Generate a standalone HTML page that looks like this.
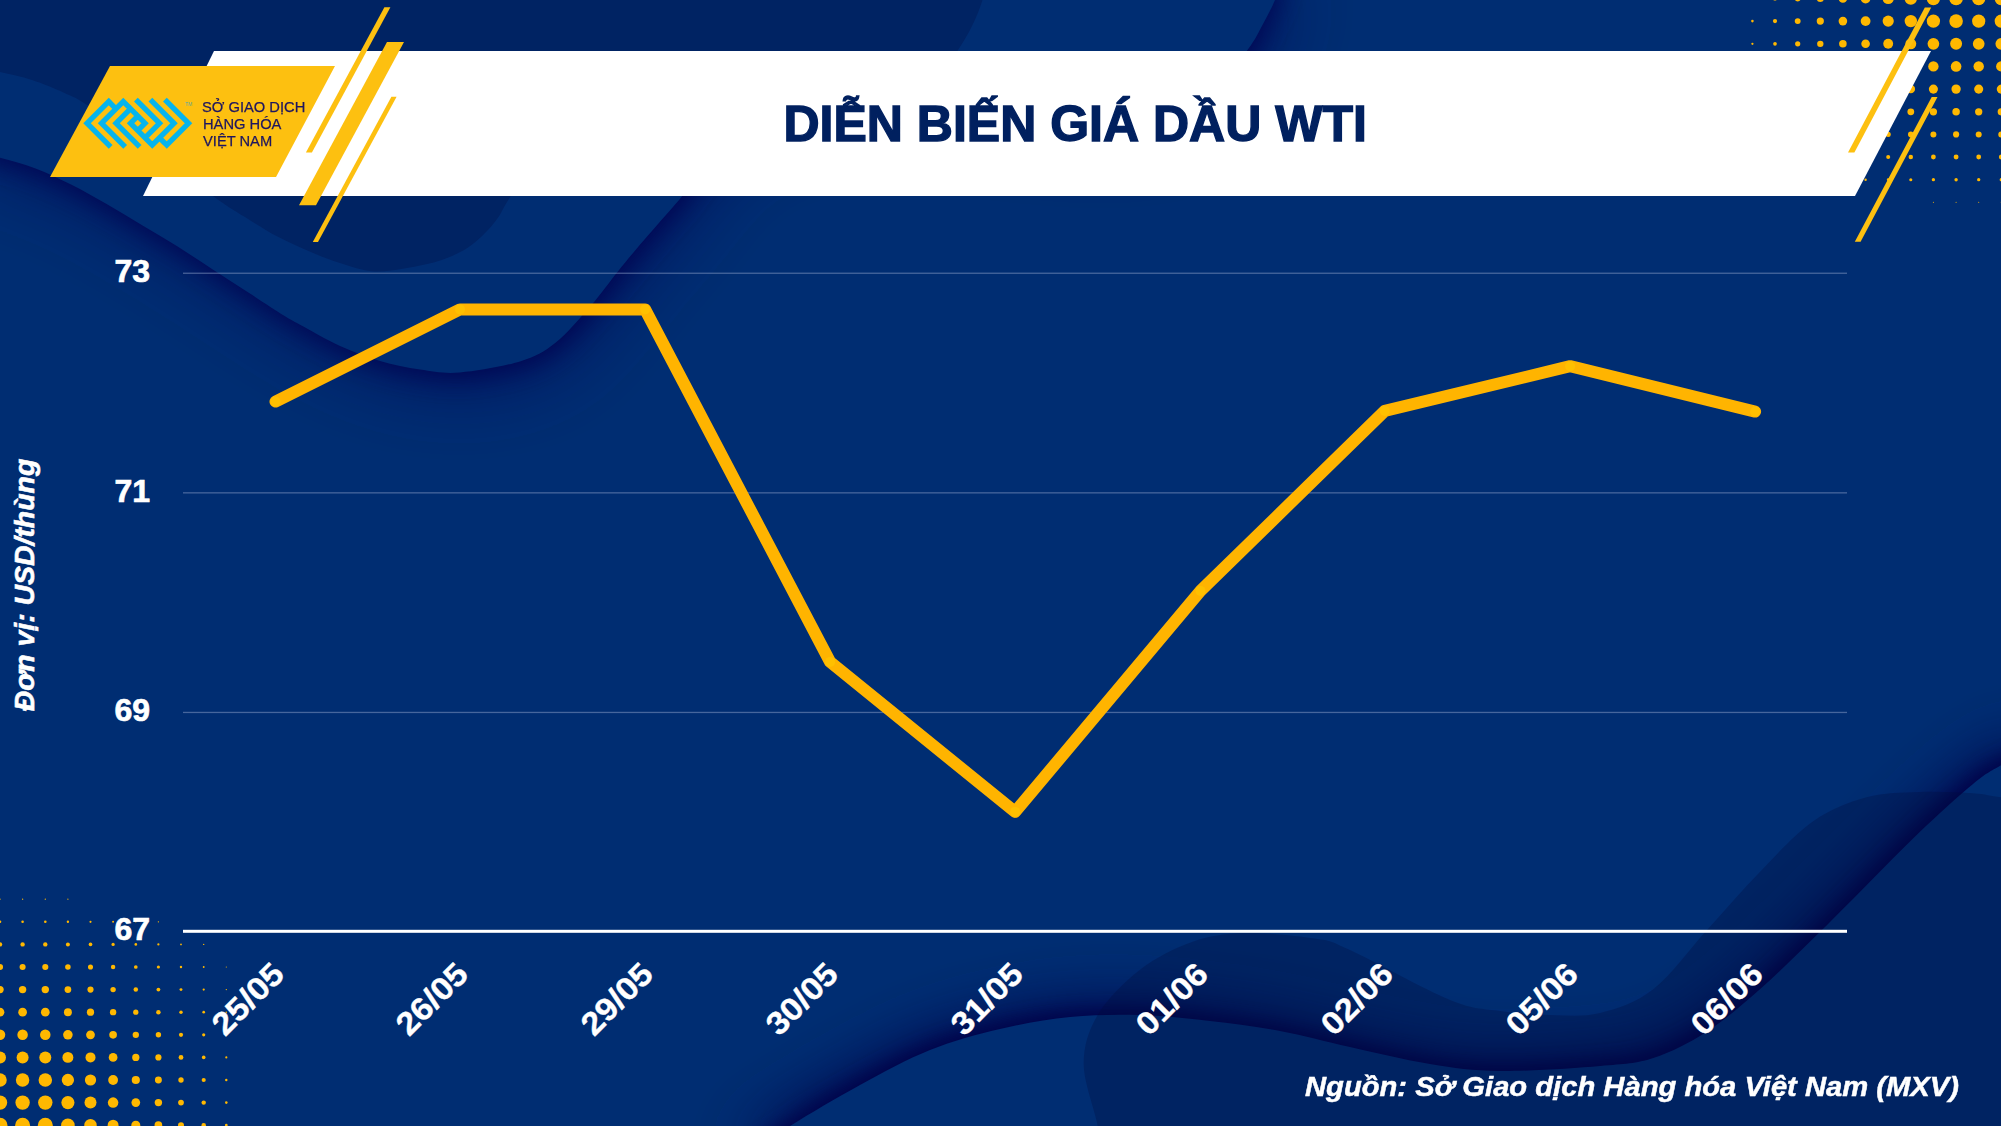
<!DOCTYPE html>
<html><head><meta charset="utf-8"><style>
html,body{margin:0;padding:0;background:#002d72;}
body{width:2001px;height:1126px;position:relative;overflow:hidden;}
svg{position:absolute;left:0;top:0;}
.t{position:absolute;white-space:nowrap;font-family:"Liberation Sans",sans-serif;line-height:1;}
.title{left:783.5px;top:98.5px;font-size:50px;font-weight:bold;color:#00205f;-webkit-text-stroke:1.4px #00205f;transform:scaleX(1.0);transform-origin:0 0;}
.lg{font-family:"Liberation Sans",sans-serif;font-size:15.4px;color:#1e1660;-webkit-text-stroke:0.25px #1e1660;left:202.5px;transform:scaleX(0.955);transform-origin:0 0;}
.l1{top:99.2px;left:201.5px}.l2{top:116.2px}.l3{top:133.3px}
.tm{left:185px;top:101.5px;font-size:5px;color:#5aa8a0;}
.yl{left:0;width:150px;text-align:right;font-size:32px;font-weight:bold;color:#fff;-webkit-text-stroke:0.7px #fff;}
.ytitle{left:-125px;top:570px;width:300px;text-align:center;font-size:28.4px;font-weight:bold;font-style:italic;color:#fff;-webkit-text-stroke:0.6px #fff;transform:rotate(-90deg);transform-origin:150px 15px;}
.src{left:1305px;top:1073px;font-size:28px;font-weight:bold;font-style:italic;color:#fff;-webkit-text-stroke:0.5px #fff;transform:scaleX(1.042);transform-origin:0 0;}
.xl{width:300px;text-align:right;font-size:32px;font-weight:bold;color:#fff;-webkit-text-stroke:0.35px #fff;transform:rotate(-45deg) scaleX(1.08);transform-origin:300px 0px;}
</style></head>
<body><svg width="2001" height="1126" viewBox="0 0 2001 1126"><defs>
<filter id="sh1" x="-20%" y="-20%" width="140%" height="140%"><feGaussianBlur stdDeviation="22"/></filter>
<filter id="sh2" x="-20%" y="-20%" width="140%" height="140%"><feGaussianBlur stdDeviation="9"/></filter>
<filter id="sh4" x="-20%" y="-20%" width="140%" height="140%"><feGaussianBlur stdDeviation="36"/></filter>
<filter id="sh5" x="-20%" y="-20%" width="140%" height="140%"><feGaussianBlur stdDeviation="12"/></filter>
<filter id="sh3" x="-20%" y="-20%" width="140%" height="140%"><feGaussianBlur stdDeviation="28"/></filter>
</defs><rect x="0" y="0" width="2001" height="1126" fill="#002d72"/><path d="M-30,-30 L-30.0,150.0 C-25.0,151.3 -10.9,154.7 0.0,157.8 C10.9,160.9 23.7,164.0 35.5,168.4 C47.3,172.8 59.1,178.5 71.0,184.4 C82.8,190.3 94.8,197.2 106.6,204.0 C118.4,210.8 130.3,218.2 142.1,225.3 C153.9,232.4 165.8,239.2 177.6,246.6 C189.4,254.0 201.2,262.0 213.1,269.7 C224.9,277.4 236.8,285.1 248.7,292.8 C260.6,300.5 275.6,310.5 284.2,315.8 C292.8,321.1 290.7,319.7 300.0,324.7 C309.3,329.7 326.7,339.9 340.0,346.0 C353.3,352.1 366.7,357.1 380.0,361.0 C393.3,364.9 406.7,367.6 420.0,369.5 C433.3,371.4 443.3,373.9 460.0,372.5 C476.7,371.1 504.1,366.3 520.0,361.4 C535.9,356.4 543.7,352.1 555.5,342.8 C567.3,333.5 580.6,317.4 591.0,305.5 C601.4,293.6 608.8,282.7 617.7,271.7 C626.6,260.7 633.9,251.8 644.3,239.7 C654.7,227.6 665.6,215.5 679.9,198.9 C694.2,182.3 701.6,156.5 730.0,140.0 C758.4,123.5 788.3,103.3 850.0,100.0 C911.7,96.7 1040.0,120.8 1100.0,120.0 C1160.0,119.2 1185.4,106.7 1210.0,95.0 C1234.6,83.3 1238.8,61.7 1247.5,50.0 C1256.2,38.3 1257.9,33.3 1262.5,25.0 C1267.1,16.7 1271.6,8.3 1275.0,0.0 C1278.4,-8.3 1281.7,-20.8 1283.0,-25.0 Z" fill="#000050" fill-opacity="0.6" filter="url(#sh4)" transform="translate(8,14)"/><path d="M-30,-30 L-30.0,150.0 C-25.0,151.3 -10.9,154.7 0.0,157.8 C10.9,160.9 23.7,164.0 35.5,168.4 C47.3,172.8 59.1,178.5 71.0,184.4 C82.8,190.3 94.8,197.2 106.6,204.0 C118.4,210.8 130.3,218.2 142.1,225.3 C153.9,232.4 165.8,239.2 177.6,246.6 C189.4,254.0 201.2,262.0 213.1,269.7 C224.9,277.4 236.8,285.1 248.7,292.8 C260.6,300.5 275.6,310.5 284.2,315.8 C292.8,321.1 290.7,319.7 300.0,324.7 C309.3,329.7 326.7,339.9 340.0,346.0 C353.3,352.1 366.7,357.1 380.0,361.0 C393.3,364.9 406.7,367.6 420.0,369.5 C433.3,371.4 443.3,373.9 460.0,372.5 C476.7,371.1 504.1,366.3 520.0,361.4 C535.9,356.4 543.7,352.1 555.5,342.8 C567.3,333.5 580.6,317.4 591.0,305.5 C601.4,293.6 608.8,282.7 617.7,271.7 C626.6,260.7 633.9,251.8 644.3,239.7 C654.7,227.6 665.6,215.5 679.9,198.9 C694.2,182.3 701.6,156.5 730.0,140.0 C758.4,123.5 788.3,103.3 850.0,100.0 C911.7,96.7 1040.0,120.8 1100.0,120.0 C1160.0,119.2 1185.4,106.7 1210.0,95.0 C1234.6,83.3 1238.8,61.7 1247.5,50.0 C1256.2,38.3 1257.9,33.3 1262.5,25.0 C1267.1,16.7 1271.6,8.3 1275.0,0.0 C1278.4,-8.3 1281.7,-20.8 1283.0,-25.0 Z" fill="#000050" fill-opacity="0.75" filter="url(#sh5)" transform="translate(3,6)"/><path d="M-30,-30 L-30.0,150.0 C-25.0,151.3 -10.9,154.7 0.0,157.8 C10.9,160.9 23.7,164.0 35.5,168.4 C47.3,172.8 59.1,178.5 71.0,184.4 C82.8,190.3 94.8,197.2 106.6,204.0 C118.4,210.8 130.3,218.2 142.1,225.3 C153.9,232.4 165.8,239.2 177.6,246.6 C189.4,254.0 201.2,262.0 213.1,269.7 C224.9,277.4 236.8,285.1 248.7,292.8 C260.6,300.5 275.6,310.5 284.2,315.8 C292.8,321.1 290.7,319.7 300.0,324.7 C309.3,329.7 326.7,339.9 340.0,346.0 C353.3,352.1 366.7,357.1 380.0,361.0 C393.3,364.9 406.7,367.6 420.0,369.5 C433.3,371.4 443.3,373.9 460.0,372.5 C476.7,371.1 504.1,366.3 520.0,361.4 C535.9,356.4 543.7,352.1 555.5,342.8 C567.3,333.5 580.6,317.4 591.0,305.5 C601.4,293.6 608.8,282.7 617.7,271.7 C626.6,260.7 633.9,251.8 644.3,239.7 C654.7,227.6 665.6,215.5 679.9,198.9 C694.2,182.3 701.6,156.5 730.0,140.0 C758.4,123.5 788.3,103.3 850.0,100.0 C911.7,96.7 1040.0,120.8 1100.0,120.0 C1160.0,119.2 1185.4,106.7 1210.0,95.0 C1234.6,83.3 1238.8,61.7 1247.5,50.0 C1256.2,38.3 1257.9,33.3 1262.5,25.0 C1267.1,16.7 1271.6,8.3 1275.0,0.0 C1278.4,-8.3 1281.7,-20.8 1283.0,-25.0 Z" fill="#002d72"/><path d="M-30,-30 L-30.0,66.0 C-25.0,67.0 -10.3,69.7 0.0,72.0 C10.3,74.3 21.3,76.5 32.0,80.0 C42.7,83.5 54.7,88.5 64.0,92.7 C73.3,97.0 73.7,96.0 88.0,105.5 C102.3,115.0 128.8,134.6 150.0,150.0 C171.2,165.4 199.6,186.6 215.3,197.7 C231.0,208.8 233.8,210.1 244.2,216.6 C254.6,223.1 266.4,230.7 277.5,236.6 C288.6,242.5 300.4,247.7 310.8,252.1 C321.2,256.5 329.8,259.8 340.0,263.0 C350.2,266.2 361.1,270.4 372.0,271.3 C382.9,272.2 394.0,270.1 405.5,268.2 C417.0,266.3 430.6,263.6 441.0,260.2 C451.4,256.8 460.3,252.3 467.7,247.7 C475.1,243.1 480.3,237.8 485.5,232.6 C490.7,227.4 494.7,222.6 498.8,216.6 C502.9,210.6 500.1,212.8 510.3,196.7 C520.5,180.6 511.7,134.4 560.0,120.0 C608.3,105.5 738.3,115.0 800.0,110.0 C861.7,105.0 903.7,100.0 930.0,90.0 C956.3,80.0 950.9,60.8 958.0,50.0 C965.1,39.2 968.4,33.3 972.5,25.0 C976.6,16.7 979.9,8.3 982.5,0.0 C985.1,-8.3 987.1,-20.8 988.0,-25.0 Z" fill="#002363"/><path d="M740.0,1160.0 C748.3,1154.3 770.0,1138.5 790.0,1126.0 C810.0,1113.5 836.7,1097.7 860.0,1085.0 C883.3,1072.3 906.7,1059.3 930.0,1050.0 C953.3,1040.7 976.7,1034.5 1000.0,1029.0 C1023.3,1023.5 1046.7,1019.3 1070.0,1017.0 C1093.3,1014.7 1116.7,1014.3 1140.0,1015.0 C1163.3,1015.7 1186.7,1018.3 1210.0,1021.0 C1233.3,1023.7 1256.7,1026.7 1280.0,1031.0 C1303.3,1035.3 1325.0,1041.5 1350.0,1047.0 C1375.0,1052.5 1405.0,1060.0 1430.0,1064.0 C1455.0,1068.0 1471.7,1070.7 1500.0,1071.0 C1528.3,1071.3 1574.5,1068.2 1600.0,1066.0 C1625.5,1063.8 1635.5,1063.7 1653.3,1058.0 C1671.1,1052.3 1688.8,1043.3 1706.6,1031.8 C1724.4,1020.3 1742.1,1004.8 1759.9,989.2 C1777.7,973.7 1795.4,955.8 1813.2,938.5 C1831.0,921.2 1848.8,903.0 1866.5,885.2 C1884.2,867.5 1902.0,848.9 1919.7,832.0 C1937.5,815.1 1959.5,795.1 1973.0,784.0 C1986.5,772.9 1989.8,771.8 2001.0,765.3 C2012.2,758.8 2033.5,748.4 2040.0,745.0 L2040,1160 Z" fill="#000048" fill-opacity="0.8" filter="url(#sh3)" transform="translate(-8,-14)"/><path d="M740.0,1160.0 C748.3,1154.3 770.0,1138.5 790.0,1126.0 C810.0,1113.5 836.7,1097.7 860.0,1085.0 C883.3,1072.3 906.7,1059.3 930.0,1050.0 C953.3,1040.7 976.7,1034.5 1000.0,1029.0 C1023.3,1023.5 1046.7,1019.3 1070.0,1017.0 C1093.3,1014.7 1116.7,1014.3 1140.0,1015.0 C1163.3,1015.7 1186.7,1018.3 1210.0,1021.0 C1233.3,1023.7 1256.7,1026.7 1280.0,1031.0 C1303.3,1035.3 1325.0,1041.5 1350.0,1047.0 C1375.0,1052.5 1405.0,1060.0 1430.0,1064.0 C1455.0,1068.0 1471.7,1070.7 1500.0,1071.0 C1528.3,1071.3 1574.5,1068.2 1600.0,1066.0 C1625.5,1063.8 1635.5,1063.7 1653.3,1058.0 C1671.1,1052.3 1688.8,1043.3 1706.6,1031.8 C1724.4,1020.3 1742.1,1004.8 1759.9,989.2 C1777.7,973.7 1795.4,955.8 1813.2,938.5 C1831.0,921.2 1848.8,903.0 1866.5,885.2 C1884.2,867.5 1902.0,848.9 1919.7,832.0 C1937.5,815.1 1959.5,795.1 1973.0,784.0 C1986.5,772.9 1989.8,771.8 2001.0,765.3 C2012.2,758.8 2033.5,748.4 2040.0,745.0 L2040,1160 Z" fill="#000048" fill-opacity="0.85" filter="url(#sh2)" transform="translate(-3,-6)"/><path d="M740.0,1160.0 C748.3,1154.3 770.0,1138.5 790.0,1126.0 C810.0,1113.5 836.7,1097.7 860.0,1085.0 C883.3,1072.3 906.7,1059.3 930.0,1050.0 C953.3,1040.7 976.7,1034.5 1000.0,1029.0 C1023.3,1023.5 1046.7,1019.3 1070.0,1017.0 C1093.3,1014.7 1116.7,1014.3 1140.0,1015.0 C1163.3,1015.7 1186.7,1018.3 1210.0,1021.0 C1233.3,1023.7 1256.7,1026.7 1280.0,1031.0 C1303.3,1035.3 1325.0,1041.5 1350.0,1047.0 C1375.0,1052.5 1405.0,1060.0 1430.0,1064.0 C1455.0,1068.0 1471.7,1070.7 1500.0,1071.0 C1528.3,1071.3 1574.5,1068.2 1600.0,1066.0 C1625.5,1063.8 1635.5,1063.7 1653.3,1058.0 C1671.1,1052.3 1688.8,1043.3 1706.6,1031.8 C1724.4,1020.3 1742.1,1004.8 1759.9,989.2 C1777.7,973.7 1795.4,955.8 1813.2,938.5 C1831.0,921.2 1848.8,903.0 1866.5,885.2 C1884.2,867.5 1902.0,848.9 1919.7,832.0 C1937.5,815.1 1959.5,795.1 1973.0,784.0 C1986.5,772.9 1989.8,771.8 2001.0,765.3 C2012.2,758.8 2033.5,748.4 2040.0,745.0 L2040,1160 Z" fill="#002d72"/><path d="M1100.0,1160.0 C1099.6,1154.3 1100.4,1142.0 1097.7,1126.0 C1095.0,1110.0 1083.7,1082.5 1083.7,1064.0 C1083.7,1045.5 1088.4,1030.7 1097.7,1015.0 C1107.0,999.3 1124.0,982.2 1139.7,970.0 C1155.4,957.8 1174.5,948.2 1192.0,942.0 C1209.5,935.8 1224.2,933.6 1244.6,933.0 C1265.0,932.4 1297.0,935.7 1314.6,938.5 C1332.2,941.3 1327.4,939.8 1350.0,950.0 C1372.6,960.2 1425.0,989.8 1450.0,1000.0 C1475.0,1010.2 1483.3,1008.5 1500.0,1011.0 C1516.7,1013.5 1533.3,1014.7 1550.0,1015.0 C1566.7,1015.3 1582.8,1017.3 1600.0,1013.0 C1617.2,1008.7 1635.5,1003.0 1653.3,989.2 C1671.1,975.5 1688.8,950.0 1706.6,930.5 C1724.4,911.0 1742.1,890.1 1759.9,871.9 C1777.7,853.7 1795.4,833.7 1813.2,821.3 C1831.0,808.9 1848.8,802.2 1866.5,797.3 C1884.2,792.4 1902.0,792.7 1919.7,792.0 C1937.5,791.3 1959.5,792.4 1973.0,793.3 C1986.5,794.2 1989.8,796.2 2001.0,797.3 C2012.2,798.4 2033.5,799.5 2040.0,800.0 L2040,1160 Z" fill="#000a3a" fill-opacity="0.28"/><rect x="183" y="272.6" width="1664" height="1.3" fill="#8c9fc8" fill-opacity="0.5"/><rect x="183" y="492.2" width="1664" height="1.3" fill="#8c9fc8" fill-opacity="0.5"/><rect x="183" y="711.8" width="1664" height="1.3" fill="#8c9fc8" fill-opacity="0.5"/><rect x="183" y="929.8" width="1664" height="3" fill="#ffffff"/><polyline points="275.5,401.6 460,309.4 645.1,309.4 830.1,661.9 1015.1,811.9 1200.5,590.9 1384.8,410.9 1570.1,366.2 1755.1,411.6" fill="none" stroke="#ffb400" stroke-width="12" stroke-linejoin="round" stroke-linecap="round"/><circle cx="275.5" cy="401.6" r="5" fill="#ffc000"/><circle cx="460" cy="309.4" r="5" fill="#ffc000"/><circle cx="645.1" cy="309.4" r="5" fill="#ffc000"/><circle cx="830.1" cy="661.9" r="5" fill="#ffc000"/><circle cx="1015.1" cy="811.9" r="5" fill="#ffc000"/><circle cx="1200.5" cy="590.9" r="5" fill="#ffc000"/><circle cx="1384.8" cy="410.9" r="5" fill="#ffc000"/><circle cx="1570.1" cy="366.2" r="5" fill="#ffc000"/><circle cx="1755.1" cy="411.6" r="5" fill="#ffc000"/><g fill="#ffb800"><circle cx="1752.4" cy="-1.5" r="1.30"/><circle cx="1752.4" cy="21.1" r="1.30"/><circle cx="1752.4" cy="43.8" r="1.14"/><circle cx="1752.4" cy="66.4" r="1.02"/><circle cx="1752.4" cy="89.1" r="0.89"/><circle cx="1752.4" cy="111.8" r="0.71"/><circle cx="1752.4" cy="134.4" r="0.59"/><circle cx="1775.0" cy="-1.5" r="2.10"/><circle cx="1775.0" cy="21.1" r="2.10"/><circle cx="1775.0" cy="43.8" r="1.85"/><circle cx="1775.0" cy="66.4" r="1.64"/><circle cx="1775.0" cy="89.1" r="1.44"/><circle cx="1775.0" cy="111.8" r="1.15"/><circle cx="1775.0" cy="134.4" r="0.95"/><circle cx="1775.0" cy="157.0" r="0.76"/><circle cx="1775.0" cy="179.7" r="0.52"/><circle cx="1797.7" cy="-1.5" r="2.95"/><circle cx="1797.7" cy="21.1" r="2.95"/><circle cx="1797.7" cy="43.8" r="2.60"/><circle cx="1797.7" cy="66.4" r="2.31"/><circle cx="1797.7" cy="89.1" r="2.02"/><circle cx="1797.7" cy="111.8" r="1.62"/><circle cx="1797.7" cy="134.4" r="1.33"/><circle cx="1797.7" cy="157.0" r="1.06"/><circle cx="1797.7" cy="179.7" r="0.73"/><circle cx="1820.3" cy="-1.5" r="3.60"/><circle cx="1820.3" cy="21.1" r="3.60"/><circle cx="1820.3" cy="43.8" r="3.17"/><circle cx="1820.3" cy="66.4" r="2.82"/><circle cx="1820.3" cy="89.1" r="2.46"/><circle cx="1820.3" cy="111.8" r="1.98"/><circle cx="1820.3" cy="134.4" r="1.62"/><circle cx="1820.3" cy="157.0" r="1.30"/><circle cx="1820.3" cy="179.7" r="0.89"/><circle cx="1842.9" cy="-1.5" r="4.30"/><circle cx="1842.9" cy="21.1" r="4.30"/><circle cx="1842.9" cy="43.8" r="3.78"/><circle cx="1842.9" cy="66.4" r="3.36"/><circle cx="1842.9" cy="89.1" r="2.94"/><circle cx="1842.9" cy="111.8" r="2.36"/><circle cx="1842.9" cy="134.4" r="1.94"/><circle cx="1842.9" cy="157.0" r="1.55"/><circle cx="1842.9" cy="179.7" r="1.07"/><circle cx="1865.6" cy="-1.5" r="4.90"/><circle cx="1865.6" cy="21.1" r="4.90"/><circle cx="1865.6" cy="43.8" r="4.31"/><circle cx="1865.6" cy="66.4" r="3.83"/><circle cx="1865.6" cy="89.1" r="3.35"/><circle cx="1865.6" cy="111.8" r="2.69"/><circle cx="1865.6" cy="134.4" r="2.21"/><circle cx="1865.6" cy="157.0" r="1.77"/><circle cx="1865.6" cy="179.7" r="1.22"/><circle cx="1888.2" cy="-1.5" r="5.60"/><circle cx="1888.2" cy="21.1" r="5.60"/><circle cx="1888.2" cy="43.8" r="4.93"/><circle cx="1888.2" cy="66.4" r="4.38"/><circle cx="1888.2" cy="89.1" r="3.83"/><circle cx="1888.2" cy="111.8" r="3.07"/><circle cx="1888.2" cy="134.4" r="2.53"/><circle cx="1888.2" cy="157.0" r="2.02"/><circle cx="1888.2" cy="179.7" r="1.39"/><circle cx="1910.8" cy="-1.5" r="6.20"/><circle cx="1910.8" cy="21.1" r="6.20"/><circle cx="1910.8" cy="43.8" r="5.45"/><circle cx="1910.8" cy="66.4" r="4.85"/><circle cx="1910.8" cy="89.1" r="4.24"/><circle cx="1910.8" cy="111.8" r="3.40"/><circle cx="1910.8" cy="134.4" r="2.80"/><circle cx="1910.8" cy="157.0" r="2.24"/><circle cx="1910.8" cy="179.7" r="1.54"/><circle cx="1933.4" cy="-1.5" r="6.65"/><circle cx="1933.4" cy="21.1" r="6.65"/><circle cx="1933.4" cy="43.8" r="5.85"/><circle cx="1933.4" cy="66.4" r="5.20"/><circle cx="1933.4" cy="89.1" r="4.55"/><circle cx="1933.4" cy="111.8" r="3.65"/><circle cx="1933.4" cy="134.4" r="3.00"/><circle cx="1933.4" cy="157.0" r="2.40"/><circle cx="1933.4" cy="179.7" r="1.65"/><circle cx="1933.4" cy="202.3" r="0.53"/><circle cx="1956.1" cy="-1.5" r="6.80"/><circle cx="1956.1" cy="21.1" r="6.80"/><circle cx="1956.1" cy="43.8" r="5.98"/><circle cx="1956.1" cy="66.4" r="5.32"/><circle cx="1956.1" cy="89.1" r="4.65"/><circle cx="1956.1" cy="111.8" r="3.73"/><circle cx="1956.1" cy="134.4" r="3.07"/><circle cx="1956.1" cy="157.0" r="2.45"/><circle cx="1956.1" cy="179.7" r="1.69"/><circle cx="1956.1" cy="202.3" r="0.54"/><circle cx="1978.7" cy="-1.5" r="6.65"/><circle cx="1978.7" cy="21.1" r="6.65"/><circle cx="1978.7" cy="43.8" r="5.85"/><circle cx="1978.7" cy="66.4" r="5.20"/><circle cx="1978.7" cy="89.1" r="4.55"/><circle cx="1978.7" cy="111.8" r="3.65"/><circle cx="1978.7" cy="134.4" r="3.00"/><circle cx="1978.7" cy="157.0" r="2.40"/><circle cx="1978.7" cy="179.7" r="1.65"/><circle cx="1978.7" cy="202.3" r="0.53"/><circle cx="2001.3" cy="-1.5" r="6.65"/><circle cx="2001.3" cy="21.1" r="6.65"/><circle cx="2001.3" cy="43.8" r="5.85"/><circle cx="2001.3" cy="66.4" r="5.20"/><circle cx="2001.3" cy="89.1" r="4.55"/><circle cx="2001.3" cy="111.8" r="3.65"/><circle cx="2001.3" cy="134.4" r="3.00"/><circle cx="2001.3" cy="157.0" r="2.40"/><circle cx="2001.3" cy="179.7" r="1.65"/><circle cx="2001.3" cy="202.3" r="0.53"/><circle cx="0.0" cy="899.2" r="0.65"/><circle cx="0.0" cy="921.8" r="1.30"/><circle cx="0.0" cy="944.4" r="2.20"/><circle cx="0.0" cy="967.0" r="3.05"/><circle cx="0.0" cy="989.6" r="3.70"/><circle cx="0.0" cy="1012.2" r="4.35"/><circle cx="0.0" cy="1034.8" r="5.25"/><circle cx="0.0" cy="1057.4" r="6.00"/><circle cx="0.0" cy="1080.0" r="6.75"/><circle cx="0.0" cy="1102.6" r="7.20"/><circle cx="0.0" cy="1125.2" r="7.50"/><circle cx="22.6" cy="899.2" r="0.65"/><circle cx="22.6" cy="921.8" r="1.30"/><circle cx="22.6" cy="944.4" r="2.20"/><circle cx="22.6" cy="967.0" r="3.05"/><circle cx="22.6" cy="989.6" r="3.70"/><circle cx="22.6" cy="1012.2" r="4.35"/><circle cx="22.6" cy="1034.8" r="5.25"/><circle cx="22.6" cy="1057.4" r="6.00"/><circle cx="22.6" cy="1080.0" r="6.75"/><circle cx="22.6" cy="1102.6" r="7.20"/><circle cx="22.6" cy="1125.2" r="7.50"/><circle cx="45.3" cy="899.2" r="0.65"/><circle cx="45.3" cy="921.8" r="1.30"/><circle cx="45.3" cy="944.4" r="2.20"/><circle cx="45.3" cy="967.0" r="3.05"/><circle cx="45.3" cy="989.6" r="3.70"/><circle cx="45.3" cy="1012.2" r="4.35"/><circle cx="45.3" cy="1034.8" r="5.25"/><circle cx="45.3" cy="1057.4" r="6.00"/><circle cx="45.3" cy="1080.0" r="6.75"/><circle cx="45.3" cy="1102.6" r="7.20"/><circle cx="45.3" cy="1125.2" r="7.50"/><circle cx="67.9" cy="899.2" r="0.59"/><circle cx="67.9" cy="921.8" r="1.18"/><circle cx="67.9" cy="944.4" r="2.00"/><circle cx="67.9" cy="967.0" r="2.77"/><circle cx="67.9" cy="989.6" r="3.37"/><circle cx="67.9" cy="1012.2" r="3.96"/><circle cx="67.9" cy="1034.8" r="4.78"/><circle cx="67.9" cy="1057.4" r="5.46"/><circle cx="67.9" cy="1080.0" r="6.14"/><circle cx="67.9" cy="1102.6" r="6.55"/><circle cx="67.9" cy="1125.2" r="6.82"/><circle cx="90.5" cy="921.8" r="1.08"/><circle cx="90.5" cy="944.4" r="1.83"/><circle cx="90.5" cy="967.0" r="2.54"/><circle cx="90.5" cy="989.6" r="3.08"/><circle cx="90.5" cy="1012.2" r="3.62"/><circle cx="90.5" cy="1034.8" r="4.38"/><circle cx="90.5" cy="1057.4" r="5.00"/><circle cx="90.5" cy="1080.0" r="5.62"/><circle cx="90.5" cy="1102.6" r="6.00"/><circle cx="90.5" cy="1125.2" r="6.25"/><circle cx="113.1" cy="921.8" r="0.95"/><circle cx="113.1" cy="944.4" r="1.60"/><circle cx="113.1" cy="967.0" r="2.22"/><circle cx="113.1" cy="989.6" r="2.70"/><circle cx="113.1" cy="1012.2" r="3.17"/><circle cx="113.1" cy="1034.8" r="3.83"/><circle cx="113.1" cy="1057.4" r="4.38"/><circle cx="113.1" cy="1080.0" r="4.92"/><circle cx="113.1" cy="1102.6" r="5.25"/><circle cx="113.1" cy="1125.2" r="5.47"/><circle cx="135.8" cy="921.8" r="0.79"/><circle cx="135.8" cy="944.4" r="1.33"/><circle cx="135.8" cy="967.0" r="1.84"/><circle cx="135.8" cy="989.6" r="2.24"/><circle cx="135.8" cy="1012.2" r="2.63"/><circle cx="135.8" cy="1034.8" r="3.17"/><circle cx="135.8" cy="1057.4" r="3.62"/><circle cx="135.8" cy="1080.0" r="4.08"/><circle cx="135.8" cy="1102.6" r="4.35"/><circle cx="135.8" cy="1125.2" r="4.53"/><circle cx="158.4" cy="921.8" r="0.67"/><circle cx="158.4" cy="944.4" r="1.13"/><circle cx="158.4" cy="967.0" r="1.57"/><circle cx="158.4" cy="989.6" r="1.90"/><circle cx="158.4" cy="1012.2" r="2.24"/><circle cx="158.4" cy="1034.8" r="2.70"/><circle cx="158.4" cy="1057.4" r="3.08"/><circle cx="158.4" cy="1080.0" r="3.47"/><circle cx="158.4" cy="1102.6" r="3.70"/><circle cx="158.4" cy="1125.2" r="3.85"/><circle cx="181.0" cy="944.4" r="0.87"/><circle cx="181.0" cy="967.0" r="1.21"/><circle cx="181.0" cy="989.6" r="1.46"/><circle cx="181.0" cy="1012.2" r="1.72"/><circle cx="181.0" cy="1034.8" r="2.08"/><circle cx="181.0" cy="1057.4" r="2.38"/><circle cx="181.0" cy="1080.0" r="2.67"/><circle cx="181.0" cy="1102.6" r="2.85"/><circle cx="181.0" cy="1125.2" r="2.97"/><circle cx="203.7" cy="944.4" r="0.67"/><circle cx="203.7" cy="967.0" r="0.93"/><circle cx="203.7" cy="989.6" r="1.13"/><circle cx="203.7" cy="1012.2" r="1.33"/><circle cx="203.7" cy="1034.8" r="1.60"/><circle cx="203.7" cy="1057.4" r="1.83"/><circle cx="203.7" cy="1080.0" r="2.06"/><circle cx="203.7" cy="1102.6" r="2.20"/><circle cx="203.7" cy="1125.2" r="2.29"/><circle cx="226.3" cy="967.0" r="0.55"/><circle cx="226.3" cy="989.6" r="0.67"/><circle cx="226.3" cy="1012.2" r="0.79"/><circle cx="226.3" cy="1034.8" r="0.95"/><circle cx="226.3" cy="1057.4" r="1.08"/><circle cx="226.3" cy="1080.0" r="1.22"/><circle cx="226.3" cy="1102.6" r="1.30"/><circle cx="226.3" cy="1125.2" r="1.35"/></g><polygon points="214,51 1931,51 1855,196 143,196" fill="#ffffff"/><polygon points="110,66 335,66 276,177 50,177" fill="#fdc010"/><polygon points="384.4,7.2 390.4,7.2 311.9,152.4 305.9,152.4" fill="#fdc010"/><polygon points="387,42.1 404,42.1 316,205.2 299,205.2" fill="#fdc010"/><polygon points="391.4,96.7 396.6,96.7 318,241.9 312.8,241.9" fill="#fdc010"/><polygon points="1924.8,7.4 1931.2,7.4 1854.4,152.4 1848,152.4" fill="#fdc010"/><polygon points="1931.7,97 1937.5,97 1860.6,241.8 1854.8,241.8" fill="#fdc010"/><path fill="#06b4ec" fill-rule="nonzero" transform="matrix(0.5,0.5,0.5,-0.5,83.4,123.36)" d="M-0.12,-0.12h7.49v50.99h-7.49ZM101.38,57.88h7.49v50.99h-7.49ZM-0.12,-0.12h50.99v7.49h-50.99ZM57.88,101.38h50.99v7.49h-50.99ZM7.13,43.38h7.49v7.49h-7.49ZM94.13,57.88h7.49v7.49h-7.49ZM14.38,14.38h7.49v50.99h-7.49ZM86.88,43.38h7.49v50.99h-7.49ZM14.38,14.38h50.99v7.49h-50.99ZM43.38,86.88h50.99v7.49h-50.99ZM14.38,57.88h50.99v7.49h-50.99ZM43.38,43.38h50.99v7.49h-50.99ZM28.88,28.88h7.49v36.49h-7.49ZM72.38,43.38h7.49v36.49h-7.49ZM28.88,28.88h50.99v7.49h-50.99ZM28.88,72.38h50.99v7.49h-50.99ZM43.38,43.38h7.49v21.99h-7.49ZM57.88,43.38h7.49v21.99h-7.49ZM43.38,43.38h21.99v7.49h-21.99ZM43.38,57.88h21.99v7.49h-21.99ZM57.88,43.38h7.49v21.99h-7.49ZM43.38,43.38h7.49v21.99h-7.49Z"/></svg>
<div class="t title">DIỄN BIẾN GIÁ DẦU WTI</div>
<div class="t lg l1">SỞ GIAO DỊCH</div>
<div class="t lg l2">HÀNG HÓA</div>
<div class="t lg l3">VIỆT NAM</div>
<div class="t tm">TM</div>
<div class="t yl" style="top:255px">73</div>
<div class="t yl" style="top:474.5px">71</div>
<div class="t yl" style="top:694px">69</div>
<div class="t yl" style="top:913px">67</div>
<div class="t ytitle">Đơn vị: USD/thùng</div>
<div class="t src">Nguồn: Sở Giao dịch Hàng hóa Việt Nam (MXV)</div>
<div class="t xl" style="left:-33.5px;top:957px">25/05</div>
<div class="t xl" style="left:151.4px;top:957px">26/05</div>
<div class="t xl" style="left:336.4px;top:957px">29/05</div>
<div class="t xl" style="left:521.3px;top:957px">30/05</div>
<div class="t xl" style="left:706.3px;top:957px">31/05</div>
<div class="t xl" style="left:891.2px;top:957px">01/06</div>
<div class="t xl" style="left:1076.2px;top:957px">02/06</div>
<div class="t xl" style="left:1261.1px;top:957px">05/06</div>
<div class="t xl" style="left:1446.1px;top:957px">06/06</div>
</body></html>
